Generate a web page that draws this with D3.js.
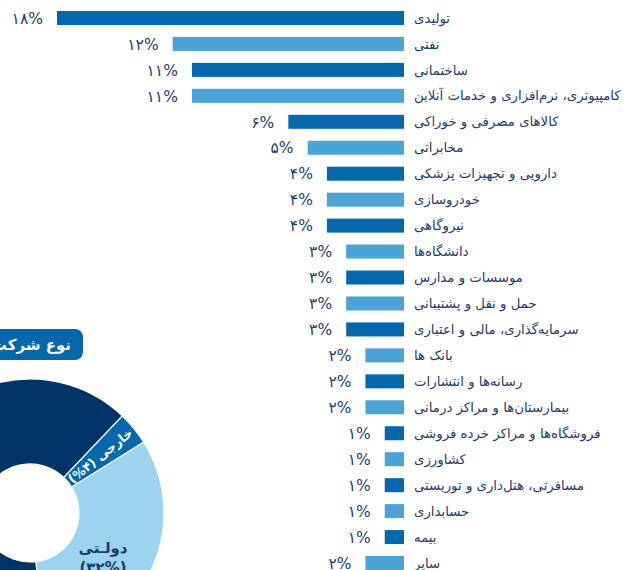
<!DOCTYPE html>
<html>
<head>
<meta charset="utf-8">
<script src="https://cdn.jsdelivr.net/npm/d3@7"></script>
<style>
  body { margin: 0; background: #fff; }
  svg { display: block; font-family: "DejaVu Sans", sans-serif; }
</style>
</head>
<body>
<svg id="chart"></svg>
<script>
const categories = [
  "تولیدی", "نفتی", "ساختمانی", "کامپیوتری، نرم‌افزاری  و خدمات آنلاین",
  "کالاهای مصرفی و خوراکی", "مخابراتی", "دارویی و تجهیزات پزشکی", "خودروسازی",
  "نیروگاهی", "دانشگاه‌ها", "موسسات و مدارس", "حمل و نقل و پشتیبانی",
  "سرمایه‌گذاری، مالی و اعتباری", "بانک ها", "رسانه‌ها و انتشارات",
  "بیمارستان‌ها و مراکز درمانی", "فروشگاه‌ها و مراکز خرده فروشی", "کشاورزی",
  "مسافرتی، هتل‌داری و توریستی", "حسابداری", "بیمه", "سایر"
];
const shares = [18, 12, 11, 11, 6, 5, 4, 4, 4, 3, 3, 3, 3, 2, 2, 2, 1, 1, 1, 1, 1, 2];

// company type donut (partly outside the picture)
const typeNames = ["دولـتی", "خصوصی", "خارجی"];
const typeShares = [32, 64, 4];

const width = 629, height = 570;
const dark = "#0568ad", light = "#4ca3d6";
const fa = n => String(n).replace(/\d/g, d => "۰۱۲۳۴۵۶۷۸۹"[d]);

const svg = d3.select("#chart").attr("width", width).attr("height", height);

const x = d3.scaleLinear().domain([0, 18]).range([404, 57]);
const y = d3.scaleBand().domain(categories).range([5, 576]).paddingInner(0.46).paddingOuter(0.23);

const rows = svg.append("g").selectAll("g")
  .data(categories.map((c, i) => ({ name: c, value: shares[i], i })))
  .enter().append("g");

rows.append("rect")
  .attr("x", d => x(d.value))
  .attr("y", d => y(d.name))
  .attr("width", d => x(0) - x(d.value))
  .attr("height", y.bandwidth())
  .attr("fill", d => d.i % 2 ? light : dark);

rows.append("text")
  .attr("x", x(0) + 10)
  .attr("y", d => y(d.name) + y.bandwidth() / 2)
  .attr("dy", "0.35em")
  .attr("direction", "rtl")
  .attr("text-anchor", "end")
  .attr("font-size", 13.3)
  .attr("fill", "#1f3b6b")
  .text(d => d.name);

rows.append("text")
  .attr("x", d => x(d.value) - 14)
  .attr("y", d => y(d.name) + y.bandwidth() / 2)
  .attr("dy", "0.37em")
  .attr("text-anchor", "end")
  .attr("font-size", 15.5)
  .attr("fill", "#1d3d6e")
  .text(d => fa(d.value) + "%");

// donut
const cx = 30, cy = 513, r0 = 49, r1 = 134;
const start = 58 * Math.PI / 180;
const pie = d3.pie().sort(null).startAngle(start).endAngle(start + 2 * Math.PI);
const arc = d3.arc().innerRadius(r0).outerRadius(r1);
const arcs = pie(typeShares);
const typeColors = ["#9cd4ee", "#003466", "#0568ad"];

const donut = svg.append("g").attr("transform", `translate(${cx},${cy})`);
donut.selectAll("path").data(arcs).enter().append("path")
  .attr("d", arc)
  .attr("fill", (d, i) => typeColors[i])
  .attr("stroke", "#fff")
  .attr("stroke-width", 1.2);

// foreign slice label, along the radius
const f = arcs[2];
const fa2 = (f.startAngle + f.endAngle) / 2;
const fr = (r0 + r1) / 2 - 1;
donut.append("text")
  .attr("transform", `translate(${fr * Math.sin(fa2)},${-fr * Math.cos(fa2)}) rotate(${fa2 * 180 / Math.PI - 90})`)
  .attr("dy", "0.36em")
  .attr("direction", "rtl")
  .attr("text-anchor", "middle")
  .attr("font-size", 12.5)
  .attr("font-weight", "bold")
  .attr("fill", "#fff")
  .text(typeNames[2] + " (" + fa(typeShares[2]) + "%)");

// state slice label
const st = svg.append("text")
  .attr("x", 103)
  .attr("y", 553)
  .attr("direction", "rtl")
  .attr("text-anchor", "middle")
  .attr("font-size", 15)
  .attr("font-weight", "bold")
  .attr("fill", "#1a3a6a");
st.append("tspan").attr("x", 103).text(typeNames[0]);
st.append("tspan").attr("x", 103).attr("dy", 20).text("(" + fa(typeShares[0]) + "%)");

// title box
svg.append("rect")
  .attr("x", -60).attr("y", 329)
  .attr("width", 143).attr("height", 31)
  .attr("rx", 8)
  .attr("fill", dark);
svg.append("text")
  .attr("x", 71).attr("y", 350)
  .attr("direction", "rtl")
  .attr("text-anchor", "start")
  .attr("font-size", 15)
  .attr("font-weight", "bold")
  .attr("fill", "#fff")
  .text("نوع شرکت");
</script>
</body>
</html>
